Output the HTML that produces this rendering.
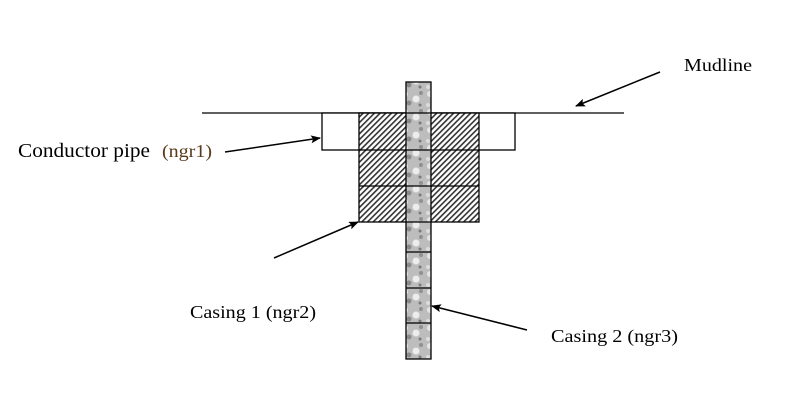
<!DOCTYPE html>
<html><head><style>
html,body{margin:0;padding:0;background:#fff;width:786px;height:407px;overflow:hidden}
</style></head><body>
<svg width="786" height="407" xmlns="http://www.w3.org/2000/svg">
<defs>
<pattern id="h" width="4" height="4" patternUnits="userSpaceOnUse" patternTransform="rotate(45)">
<rect width="4" height="4" fill="#fff"/><rect width="1.6" height="4" fill="#333"/>
</pattern>
<pattern id="g" width="25" height="18" patternUnits="userSpaceOnUse">
<rect width="25" height="18" fill="#bdbdbd"/>
<circle cx="5" cy="4" r="3" fill="#e6e6e6"/>
<circle cx="16" cy="9" r="3.5" fill="#ececec"/>
<circle cx="9" cy="13" r="2.5" fill="#8a8a8a"/>
<circle cx="21" cy="3" r="2" fill="#909090"/>
<circle cx="3" cy="15" r="2" fill="#dcdcdc"/>
<circle cx="20" cy="15" r="1.5" fill="#7a7a7a"/>
</pattern>
<marker id="a" markerWidth="10" markerHeight="8" refX="9" refY="4" orient="auto" markerUnits="userSpaceOnUse">
<path d="M0,0 L10,4 L0,8 L2,4 Z" fill="#000"/>
</marker>
</defs>
<line x1="202" y1="113" x2="624" y2="113" stroke="#000" stroke-width="1.3"/>
<rect x="322" y="113" width="193" height="37" fill="#fff" stroke="#000" stroke-width="1.3"/>
<rect x="359" y="113" width="120" height="109" fill="url(#h)" stroke="#000" stroke-width="1.3"/>
<line x1="359" y1="150" x2="479" y2="150" stroke="#000" stroke-width="1.3"/>
<line x1="359" y1="186" x2="479" y2="186" stroke="#000" stroke-width="1.3"/>
<rect x="406" y="82" width="25" height="277" fill="url(#g)" stroke="#000" stroke-width="1.3"/>
<g stroke="#000" stroke-width="1.3">
<line x1="406" y1="113" x2="431" y2="113"/><line x1="406" y1="150" x2="431" y2="150"/>
<line x1="406" y1="186" x2="431" y2="186"/><line x1="406" y1="222" x2="431" y2="222"/>
<line x1="406" y1="252" x2="431" y2="252"/><line x1="406" y1="288" x2="431" y2="288"/>
<line x1="406" y1="323" x2="431" y2="323"/>
</g>
<g stroke="#000" stroke-width="1.5" marker-end="url(#a)">
<line x1="660" y1="72" x2="576" y2="106"/>
<line x1="225" y1="152" x2="320" y2="138"/>
<line x1="274" y1="258" x2="358" y2="222"/>
<line x1="527" y1="330" x2="432" y2="306"/>
</g>
<g font-family="Liberation Serif, serif" fill="#000">
<text x="684" y="71" font-size="18" textLength="68" lengthAdjust="spacingAndGlyphs">Mudline</text>
<text x="18" y="157" font-size="20" textLength="132" lengthAdjust="spacingAndGlyphs">Conductor pipe</text>
<text x="162" y="157" font-size="18" fill="#5a3a1a" textLength="50" lengthAdjust="spacingAndGlyphs">(ngr1)</text>
<text x="190" y="318" font-size="18" textLength="126" lengthAdjust="spacingAndGlyphs">Casing 1 (ngr2)</text>
<text x="551" y="342" font-size="18" textLength="127" lengthAdjust="spacingAndGlyphs">Casing 2 (ngr3)</text>
</g>
</svg>
</body></html>
